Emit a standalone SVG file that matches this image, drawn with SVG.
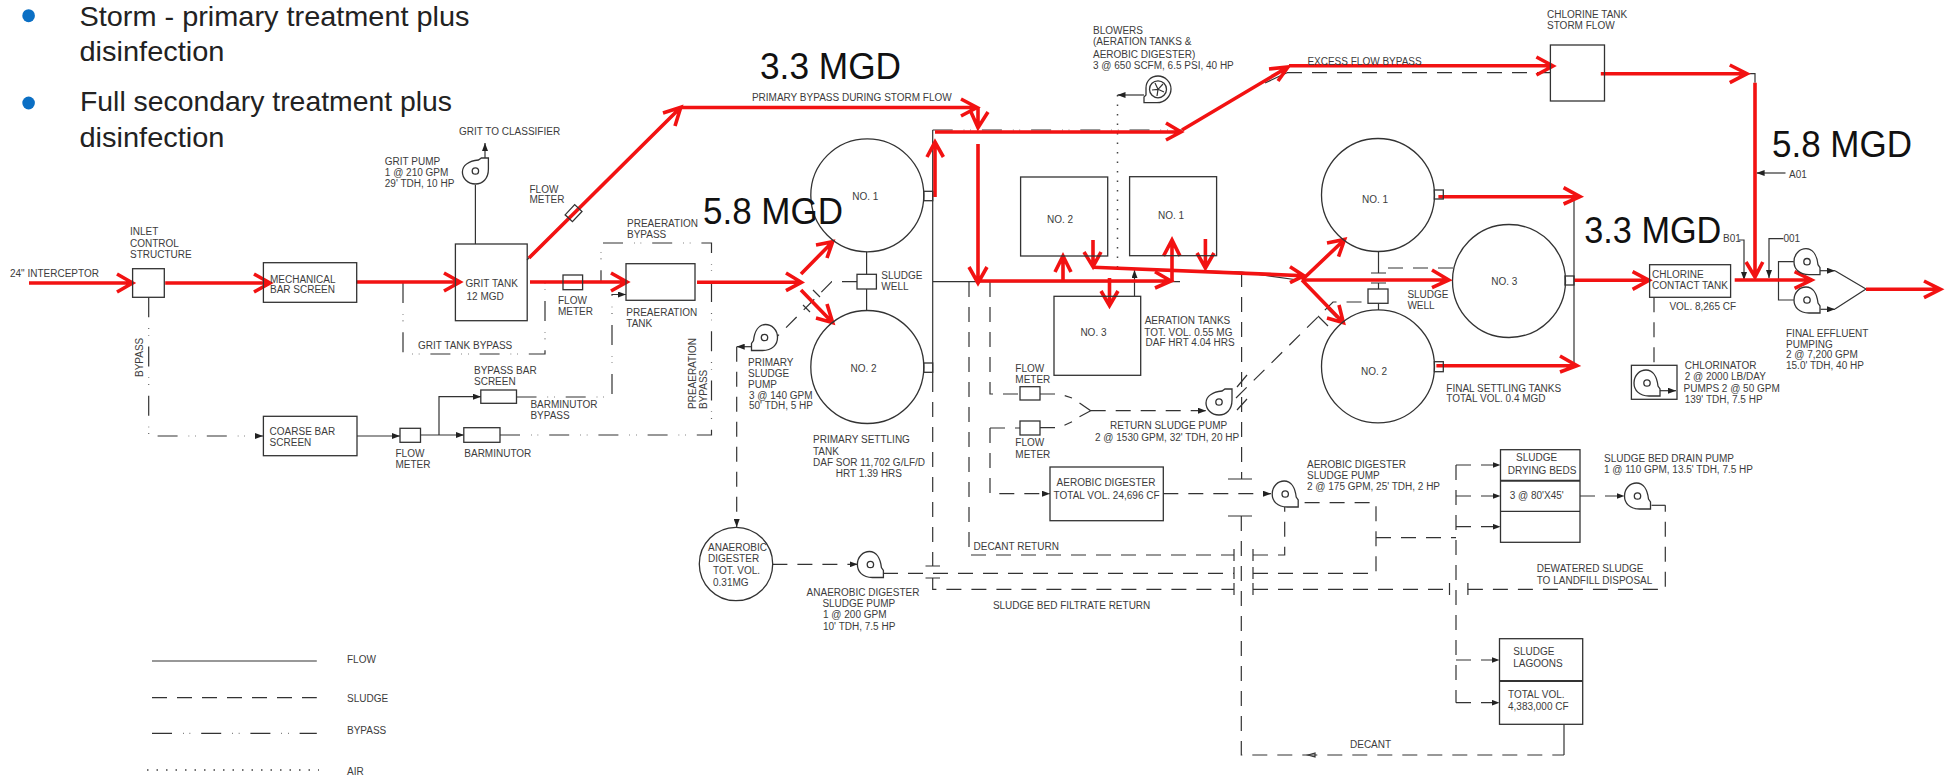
<svg xmlns="http://www.w3.org/2000/svg" xmlns:xlink="http://www.w3.org/1999/xlink" width="1948" height="777" viewBox="0 0 1948 777">
<style>
text{font-family:"Liberation Sans",Arial,sans-serif;font-size:10px;fill:#3c3c3c}
.big{font-size:36.5px;fill:#111}
.bul{font-size:28px;fill:#222}
.n{fill:none;stroke:#333;stroke-width:1.3}
.w{fill:#fff;stroke:#333;stroke-width:1.3}
.f{fill:none;stroke:#333;stroke-width:1.2}
.s{fill:none;stroke:#333;stroke-width:1.2;stroke-dasharray:15 10}
.b{fill:none;stroke:#333;stroke-width:1.2;stroke-dasharray:20 11 .6 6 .6 11}
.d{fill:none;stroke:#444;stroke-width:1.5;stroke-dasharray:1.5 8}
.r{fill:none;stroke:#f21212;stroke-width:3.6}
</style>
<defs>
<marker id="a" viewBox="0 0 8 6" refX="8" refY="3" markerWidth="8" markerHeight="6" markerUnits="userSpaceOnUse" orient="auto"><path d="M0 0L8 3L0 6Z" fill="#222"/></marker>
<g id="pump"><path class="w" d="M13 13H2C-8 13-13 7-13 0C-13-8-7-13-1-13C6-13 10-6 11 3L13 6Z"/><circle class="n" r="3.2"/></g>
</defs>
<rect width="1948" height="777" fill="#fff"/>

<g id="bullets">
<ellipse cx="28.6" cy="15.7" rx="6.3" ry="6.5" fill="#0b6fc4"/>
<ellipse cx="28.6" cy="103" rx="6.3" ry="6.5" fill="#0b6fc4"/>
<text class="bul" x="79.5" y="25.5" textLength="390" lengthAdjust="spacingAndGlyphs">Storm - primary treatment plus</text>
<text class="bul" x="79.5" y="60.5" textLength="145" lengthAdjust="spacingAndGlyphs">disinfection</text>
<text class="bul" x="80" y="111" textLength="372" lengthAdjust="spacingAndGlyphs">Full secondary treatment plus</text>
<text class="bul" x="79.5" y="147" textLength="145" lengthAdjust="spacingAndGlyphs">disinfection</text>
</g>

<g id="connectors">
<g id="thin-lines">
<path class="f" d="M475.4 244V185"/>
<path class="f" d="M485 158V143" marker-end="url(#a)"/>
<path class="f" d="M527 260L533 253"/>
<path class="f" d="M357 436H400" marker-end="url(#a)"/>
<path class="f" d="M420.5 435H464" marker-end="url(#a)"/>
<path class="f" d="M439 435V396.7H481" marker-end="url(#a)"/>
<path class="b" d="M148.7 297.3V436H263" marker-end="url(#a)"/>
<path class="b" d="M516.5 397H612V294.5H626" marker-end="url(#a)"/>
<path class="b" d="M500 435H711.5V243H601V283"/>
<path class="b" d="M403 283V354H545V283"/>
<path class="b" d="M932.7 130H1182"/>
<path class="f" d="M932.7 130V377M932.7 281.7H1180M866.6 251.7V274.3M866.6 289V311"/>
<path class="s" d="M932.7 377V566"/>
<path class="s" d="M857 281.7H831.8L777 336.7"/>
<path class="f" d="M813 290L820 297M803 305L810 312"/>
<path class="f" d="M751.4 346.7H736.7" marker-end="url(#a)"/>
<path class="s" d="M736.7 346.7V527" marker-end="url(#a)"/>
<path class="s" d="M772.4 564.3H857.7" marker-end="url(#a)"/>
<path class="s" d="M883 573.3H1234M1253 573.3H1376V502.7H1299"/>
<path class="s" d="M932.7 578V589.3H1234M1253 589.3H1449.5M1467.9 589.3H1665.3V505.3"/>
<path class="f" d="M1665.3 505.3H1651.5"/>
<path class="s" d="M969 282V555H1234M1253 555H1284.7V506.7"/>
<path class="s" d="M990 282V394H1020"/>
<path class="s" d="M990 428H1020"/>
<path class="s" d="M990 428V493.7H1050" marker-end="url(#a)"/>
<path class="s" d="M1040 394H1059.5L1072 398M1040 427.7H1059.5L1072 421.7"/>
<path class="f" d="M1079.5 403L1090.7 410.7L1079.5 416.7"/>
<path class="s" d="M1090.7 410.7H1206" marker-end="url(#a)"/>
<path class="s" d="M1236 398L1333 302H1368"/>
<path class="f" d="M1237 387L1247 375M1237 410L1247 399M1327 308L1337 318M1318 316L1328 326"/>
<path class="f" d="M1134.5 296V270" marker-end="url(#a)"/>
<path class="f" d="M1095 268L1241.6 272L1298 280"/>
<path class="s" d="M1241.6 272V479"/>
<path class="s" d="M1241.3 516V755H1564"/>
<path class="f" d="M1564 755V724.3"/>
<path class="f" d="M1228 479H1252M1228 516H1252M1234 549V561M1234 567V579M1234 583V595M1253 549V561M1253 567V579M1253 583V595M1449.5 583V595M1467.9 583V595M925.5 566H940M925.5 578H940"/>
<path class="f" d="M1308 755L1315 753V757Z"/>
<path class="s" d="M1163.3 493.7H1271" marker-end="url(#a)"/>
<path class="d" d="M1117.5 95V273"/>
<path class="f" d="M1144 95H1117.5" marker-end="url(#a)"/>
<path class="s" d="M1287 72.7H1550"/>
<path class="f" d="M1265 83L1287 72.7"/>
<path class="f" d="M1378.5 252V273M1371 273H1386M1371 283H1386M1378.5 283V289M1378.5 303.3V310"/>
<path class="s" d="M1453 268H1378.5"/>
<path class="f" d="M1574 197V365"/>
<path class="s" d="M1654 297.3V365.3"/>
<path class="f" d="M1660 390.7H1676" marker-end="url(#a)"/>
<path class="f" d="M1739 240H1744V280" marker-end="url(#a)"/>
<path class="f" d="M1783.5 238.7H1769V278" marker-end="url(#a)"/>
<path class="f" d="M1785.5 173H1756.6" marker-end="url(#a)"/>
<path class="f" d="M1747 73.7H1755V82.7"/>
<path class="f" d="M1793.8 261.7H1778.5V300H1793.8"/>
<path class="f" d="M1819.4 270.7H1835" marker-end="url(#a)"/>
<path class="f" d="M1820.5 309.3H1835" marker-end="url(#a)"/>
<path class="f" d="M1835 270.7L1866 289L1835 309"/>
<path class="s" d="M1376 537.7H1456"/>
<path class="s" d="M1456 465V702.7"/>
<path class="s" d="M1456 465H1500.5" marker-end="url(#a)"/>
<path class="s" d="M1456 496H1500.5" marker-end="url(#a)"/>
<path class="s" d="M1456 526.7H1500.5" marker-end="url(#a)"/>
<path class="s" d="M1456 660H1499.5" marker-end="url(#a)"/>
<path class="s" d="M1456 702.7H1499.5" marker-end="url(#a)"/>
<path class="s" d="M1580 496H1624.5" marker-end="url(#a)"/>
</g>
<g id="flow-overlay">
<path class="r" d="M29 283H132.6M117 274L132.6 283L117 292"/>
<path class="r" d="M165.2 283H270M254 274L270 283L254 292"/>
<path class="r" d="M356 282H460M444 273L460 282L444 291"/>
<path class="r" d="M530 282H627M611 273L627 282L611 291"/>
<path class="r" d="M529 258L680.8 107.3M663 113L680.8 107.3L675 126"/>
<path class="r" d="M681 107.5H977M961 99L977 107.5L961 116"/>
<path class="r" d="M978 108V127.7M971 112L978 127.7L988 112"/>
<path class="r" d="M978 144V283M969 267L978 283L987 267"/>
<path class="r" d="M935 132H1181M1166 123L1181 132L1166 140"/>
<path class="r" d="M935 197V142M927 157L935 142L943.4 157"/>
<path class="r" d="M1182 130L1288 67M1269 69L1288 67L1278 81"/>
<path class="r" d="M1289 65.7H1553M1536.4 57L1553 66L1536.4 75"/>
<path class="r" d="M1600.8 73.7H1747M1729.8 65L1747 73.7L1729.8 82.7"/>
<path class="r" d="M1755 82.7V277M1746 262L1755 277L1762.8 262"/>
<path class="r" d="M1438.4 196.7H1580M1563.6 187.7L1580 196.7L1563.6 204"/>
<path class="r" d="M1436.4 365.7H1577M1560 356L1577 365.7L1560 372"/>
<path class="r" d="M1574 280.3H1649M1632.6 271.7L1649 280.3L1632.6 289.3"/>
<path class="r" d="M1734.7 280H1811.6M1794.6 271.7L1811.6 280L1794.6 288.3"/>
<path class="r" d="M1866 289.3H1940.5M1924 281L1940.5 289.3L1924 297.7"/>
<path class="r" d="M697 282.3H801.4M786 273L801.4 282.3L786 290.7"/>
<path class="r" d="M801 274L832.7 241.7M816 245L832.7 241.7L827 258"/>
<path class="r" d="M801 290L832.7 322.7M816 318L832.7 322.7L827 304"/>
<path class="r" d="M978 281H1171M1155 271.7L1171 281L1155 288"/>
<path class="r" d="M1063 281V256M1055 272L1063 256L1071 272"/>
<path class="r" d="M1093 240V266.7M1084 252L1093 266.7L1101 252"/>
<path class="r" d="M1109.5 278V305.7M1101 291L1109.5 305.7L1118 291"/>
<path class="r" d="M1172 281V240M1163.5 256L1172 240L1180 256"/>
<path class="r" d="M1205.4 239V268M1197 253L1205.4 268L1214 253"/>
<path class="r" d="M1093 267.3L1304 275.7M1290 266.7L1304 275.7L1290 282.7"/>
<path class="r" d="M1302 280L1344.6 239.5M1327 243L1344.6 239.5L1338.5 256.7"/>
<path class="r" d="M1302 280H1448.8M1432 270L1448.8 280L1432 287.7"/>
<path class="r" d="M1302 280L1343.4 322.7M1327 318L1343.4 322.7L1339 305"/>
</g>
</g>

<g id="inlet"><rect class="n" x="132.6" y="268.7" width="31.7" height="28.6"/><text x="130" y="235">INLET</text><text x="130" y="246.7">CONTROL</text><text x="130" y="258">STRUCTURE</text><text x="10" y="277">24" INTERCEPTOR</text></g>
<g id="bypass-label"><text transform="translate(143 377) rotate(-90)">BYPASS</text></g>
<g id="bar-screen"><rect class="n" x="263.4" y="262.7" width="93.3" height="39.6"/><text x="270" y="282.7">MECHANICAL</text><text x="270" y="293">BAR SCREEN</text></g>
<g id="grit-tank"><rect class="n" x="455.4" y="244" width="71.8" height="76.7"/><text x="465.6" y="287">GRIT TANK</text><text x="466.5" y="300.3">12 MGD</text><text x="418" y="349.3">GRIT TANK BYPASS</text></g>
<g id="grit-pump"><use xlink:href="#pump" href="#pump" transform="translate(475.4 171) rotate(-90)"/><text x="384.8" y="165">GRIT PUMP</text><text x="384.8" y="176">1 @ 210 GPM</text><text x="384.8" y="187.3">29' TDH, 10 HP</text><text x="459" y="134.7">GRIT TO CLASSIFIER</text></g>
<g id="flow-meter-a"><rect class="n" x="566.5" y="208" width="14" height="10" transform="rotate(-47 573.7 213)" /><text x="529.5" y="193">FLOW</text><text x="529.5" y="203">METER</text></g>
<g id="flow-meter-b"><rect class="n" x="563" y="275" width="19.6" height="14.7"/><text x="558" y="304.3">FLOW</text><text x="558" y="314.7">METER</text></g>
<g id="preaeration"><rect class="n" x="626" y="263.7" width="69" height="36.6"/><text x="626.3" y="316.3">PREAERATION</text><text x="626.3" y="326.7">TANK</text><text x="627" y="227">PREAERATION</text><text x="627" y="238">BYPASS</text><text transform="translate(695.6 409) rotate(-90)">PREAERATION</text><text transform="translate(706.8 409) rotate(-90)">BYPASS</text></g>
<g id="coarse-screen"><rect class="n" x="263.4" y="416.3" width="93.6" height="39.4"/><text x="269.6" y="435">COARSE BAR</text><text x="269.6" y="446.3">SCREEN</text></g>
<g id="flow-meter-c"><rect class="n" x="400" y="428.3" width="20.5" height="14"/><text x="395.5" y="456.7">FLOW</text><text x="395.5" y="468">METER</text></g>
<g id="barminutor"><rect class="n" x="463.8" y="427.7" width="36.2" height="14.6"/><text x="464.3" y="457.3">BARMINUTOR</text><text x="530.4" y="407.7">BARMINUTOR</text><text x="530.4" y="419">BYPASS</text></g>
<g id="bypass-bar"><rect class="n" x="480.8" y="390" width="35.7" height="13.3"/><text x="474" y="373.7">BYPASS BAR</text><text x="474" y="385">SCREEN</text></g>

<g id="primary-1"><circle class="n" cx="867.3" cy="195.3" r="56.5"/><rect class="n" x="923.8" y="191.3" width="8.9" height="9.4"/><text x="852.3" y="200">NO. 1</text></g>
<g id="primary-2"><circle class="n" cx="867.3" cy="367" r="56.5"/><rect class="n" x="923.8" y="363" width="8.9" height="9.3"/><text x="850.5" y="372">NO. 2</text><text x="813" y="443.3">PRIMARY SETTLING</text><text x="813" y="454.7">TANK</text><text x="813" y="466">DAF SOR 11,702 G/LF/D</text><text x="835.7" y="476.7">HRT 1.39 HRS</text></g>
<g id="primary-well"><rect class="n" x="857" y="274.3" width="19.4" height="14.7"/><text x="881.3" y="279.3">SLUDGE</text><text x="881.3" y="290">WELL</text></g>
<g id="primary-pump"><use xlink:href="#pump" href="#pump" transform="translate(764.5 337.5) scale(-1 1)"/><text x="748" y="366">PRIMARY</text><text x="748" y="376.7">SLUDGE</text><text x="748" y="388">PUMP</text><text x="749" y="399">3 @ 140 GPM</text><text x="749" y="409.3">50' TDH, 5 HP</text></g>
<g id="anaerobic"><circle class="n" cx="736" cy="564" r="36.7"/><text x="708" y="550.7">ANAEROBIC</text><text x="708" y="562.3">DIGESTER</text><text x="713" y="574.3">TOT. VOL.</text><text x="713" y="585.7">0.31MG</text></g>
<g id="anaerobic-pump"><use xlink:href="#pump" href="#pump" transform="translate(870.4 564.5)"/><text x="806.6" y="596">ANAEROBIC DIGESTER</text><text x="822.4" y="607">SLUDGE PUMP</text><text x="823" y="618.3">1 @ 200 GPM</text><text x="823" y="629.7">10' TDH, 7.5 HP</text></g>
<g id="bypass-title"><text x="751.9" y="100.7">PRIMARY BYPASS DURING STORM FLOW</text><text x="1307.4" y="64.7">EXCESS FLOW BYPASS</text></g>
<g id="blower"><path class="w" d="M1144 102.7H1157C1165 102.7 1171 96 1171 89C1171 82 1165 76 1158 76C1151 76 1146 81 1146 88V95L1144 97Z"/><circle class="n" cx="1158" cy="89.3" r="8.5"/><path class="f" d="M1158 89.3L1163 84M1158 89.3L1164 92M1158 89.3L1157 96M1158 89.3L1152 90M1158 89.3L1155 83"/><text x="1093" y="34.3">BLOWERS</text><text x="1093" y="44.7">(AERATION TANKS &amp;</text><text x="1093" y="58.3">AEROBIC DIGESTER)</text><text x="1093" y="69">3 @ 650 SCFM,  6.5 PSI, 40 HP</text></g>
<g id="aeration-2"><rect class="n" x="1020.6" y="177" width="87.1" height="79"/><text x="1047" y="223.3">NO. 2</text></g>
<g id="aeration-1"><rect class="n" x="1129.6" y="176.7" width="87" height="79"/><text x="1158" y="218.7">NO. 1</text></g>
<g id="aeration-3"><rect class="n" x="1054" y="296.3" width="86.7" height="79"/><text x="1080.4" y="336.3">NO. 3</text><text x="1144.7" y="324">AERATION TANKS</text><text x="1144.3" y="336">TOT. VOL. 0.55 MG</text><text x="1145.6" y="346.3">DAF HRT 4.04 HRS</text></g>
<g id="flow-meter-d"><rect class="n" x="1020" y="386.7" width="20" height="13.3"/><text x="1015.3" y="372">FLOW</text><text x="1015.3" y="383.3">METER</text></g>
<g id="flow-meter-e"><rect class="n" x="1020" y="421" width="20" height="14"/><text x="1015.3" y="446.3">FLOW</text><text x="1015.3" y="457.7">METER</text></g>
<g id="return-pump"><use xlink:href="#pump" href="#pump" transform="translate(1219 402) rotate(-90)"/><text x="1110" y="429">RETURN SLUDGE PUMP</text><text x="1095" y="440.7">2 @ 1530 GPM, 32' TDH, 20 HP</text></g>
<g id="aerobic-digester"><rect class="n" x="1050" y="467" width="113.3" height="53.7"/><text x="1056.6" y="486">AEROBIC DIGESTER</text><text x="1053.6" y="499">TOTAL VOL. 24,696 CF</text></g>
<g id="aerobic-pump"><use xlink:href="#pump" href="#pump" transform="translate(1285.2 494)"/><text x="1307" y="467.7">AEROBIC DIGESTER</text><text x="1307" y="479">SLUDGE PUMP</text><text x="1307" y="490.3">2 @ 175 GPM, 25' TDH, 2 HP</text></g>
<g id="return-labels"><text x="973.5" y="549.7">DECANT RETURN</text><text x="992.9" y="609.3">SLUDGE BED FILTRATE RETURN</text><text x="1350" y="748.3">DECANT</text></g>

<g id="final-1"><circle class="n" cx="1378" cy="195" r="56.5"/><rect class="n" x="1434.3" y="190" width="9" height="9"/><text x="1362" y="202.7">NO. 1</text></g>
<g id="final-2"><circle class="n" cx="1378" cy="366.4" r="56.5"/><rect class="n" x="1434.3" y="361.7" width="9" height="10"/><text x="1361" y="375">NO. 2</text><text x="1446.3" y="391.7">FINAL SETTLING TANKS</text><text x="1446.3" y="402.3">TOTAL VOL. 0.4 MGD</text></g>
<g id="final-3"><circle class="n" cx="1509" cy="281" r="56.5"/><rect class="n" x="1565" y="276" width="9" height="9"/><text x="1491.3" y="285.3">NO. 3</text></g>
<g id="final-well"><rect class="n" x="1368" y="289" width="20" height="14.3"/><text x="1407.4" y="297.7">SLUDGE</text><text x="1407.4" y="309">WELL</text></g>
<g id="chlorine-storm"><rect class="n" x="1550.4" y="45" width="54.1" height="56"/><text x="1547" y="17.7">CHLORINE TANK</text><text x="1547" y="29">STORM FLOW</text></g>
<g id="chlorine-contact"><rect class="n" x="1649.6" y="264.7" width="81" height="32.6"/><text x="1652" y="277.7">CHLORINE</text><text x="1652" y="289">CONTACT TANK</text><text x="1669.4" y="310">VOL. 8,265 CF</text></g>
<g id="chlorinator"><rect class="n" x="1631.4" y="365.3" width="45.6" height="34"/><use xlink:href="#pump" href="#pump" transform="translate(1647 383)"/><text x="1684.7" y="369">CHLORINATOR</text><text x="1684.7" y="380.3">2 @ 2000 LB/DAY</text><text x="1683.5" y="392.3">PUMPS 2 @ 50 GPM</text><text x="1684.7" y="403.3">139' TDH, 7.5 HP</text></g>
<g id="final-pump-a"><use xlink:href="#pump" href="#pump" transform="translate(1807 261.7)"/></g>
<g id="final-pump-b"><use xlink:href="#pump" href="#pump" transform="translate(1807 300)"/><text x="1786" y="337">FINAL EFFLUENT</text><text x="1786" y="348.3">PUMPING</text><text x="1786" y="357.7">2 @ 7,200 GPM</text><text x="1786" y="369">15.0' TDH, 40 HP</text></g>
<g id="outfall-tags"><text x="1789" y="177.7">A01</text><text x="1723" y="242">B01</text><text x="1783.5" y="242">001</text></g>
<g id="drying-beds"><rect class="n" x="1500.5" y="449.7" width="79.5" height="92.6"/><path class="n" d="M1500.5 480.7H1580" style="stroke-width:2"/><path class="n" d="M1500.5 511.3H1580"/><text x="1516" y="461.3">SLUDGE</text><text x="1507.7" y="474.3">DRYING BEDS</text><text x="1509.7" y="499.3">3 @ 80'X45'</text></g>
<g id="drain-pump"><use xlink:href="#pump" href="#pump" transform="translate(1637.5 496)"/><text x="1604" y="462.3">SLUDGE BED DRAIN PUMP</text><text x="1604" y="473.3">1 @ 110 GPM, 13.5' TDH, 7.5 HP</text><text x="1536.7" y="572.3">DEWATERED SLUDGE</text><text x="1536.7" y="584">TO LANDFILL DISPOSAL</text></g>
<g id="lagoons"><rect class="n" x="1499.5" y="638.7" width="83.2" height="85.6"/><path class="n" d="M1499.5 681H1582.7" style="stroke-width:2"/><text x="1513.3" y="655.3">SLUDGE</text><text x="1513.3" y="666.7">LAGOONS</text><text x="1508" y="698.3">TOTAL VOL.</text><text x="1508" y="710">4,383,000 CF</text></g>

<g id="legend">
<path class="f" d="M152 661H316.8"/><text x="347" y="663.3">FLOW</text>
<path class="s" d="M152 697.7H316.8"/><text x="347" y="702">SLUDGE</text>
<path class="b" d="M152 733.3H316.8"/><text x="347" y="734.3">BYPASS</text>
<path class="d" d="M147 770H319"/><text x="347" y="775">AIR</text>
</g>

<g id="flow-values">
<text class="big" x="760" y="79" textLength="141" lengthAdjust="spacingAndGlyphs">3.3 MGD</text>
<text class="big" x="703" y="224" textLength="140" lengthAdjust="spacingAndGlyphs">5.8 MGD</text>
<text class="big" x="1772" y="156.7" textLength="140" lengthAdjust="spacingAndGlyphs">5.8 MGD</text>
<text class="big" x="1584.3" y="243.3" textLength="137" lengthAdjust="spacingAndGlyphs">3.3 MGD</text>
</g>
</svg>
